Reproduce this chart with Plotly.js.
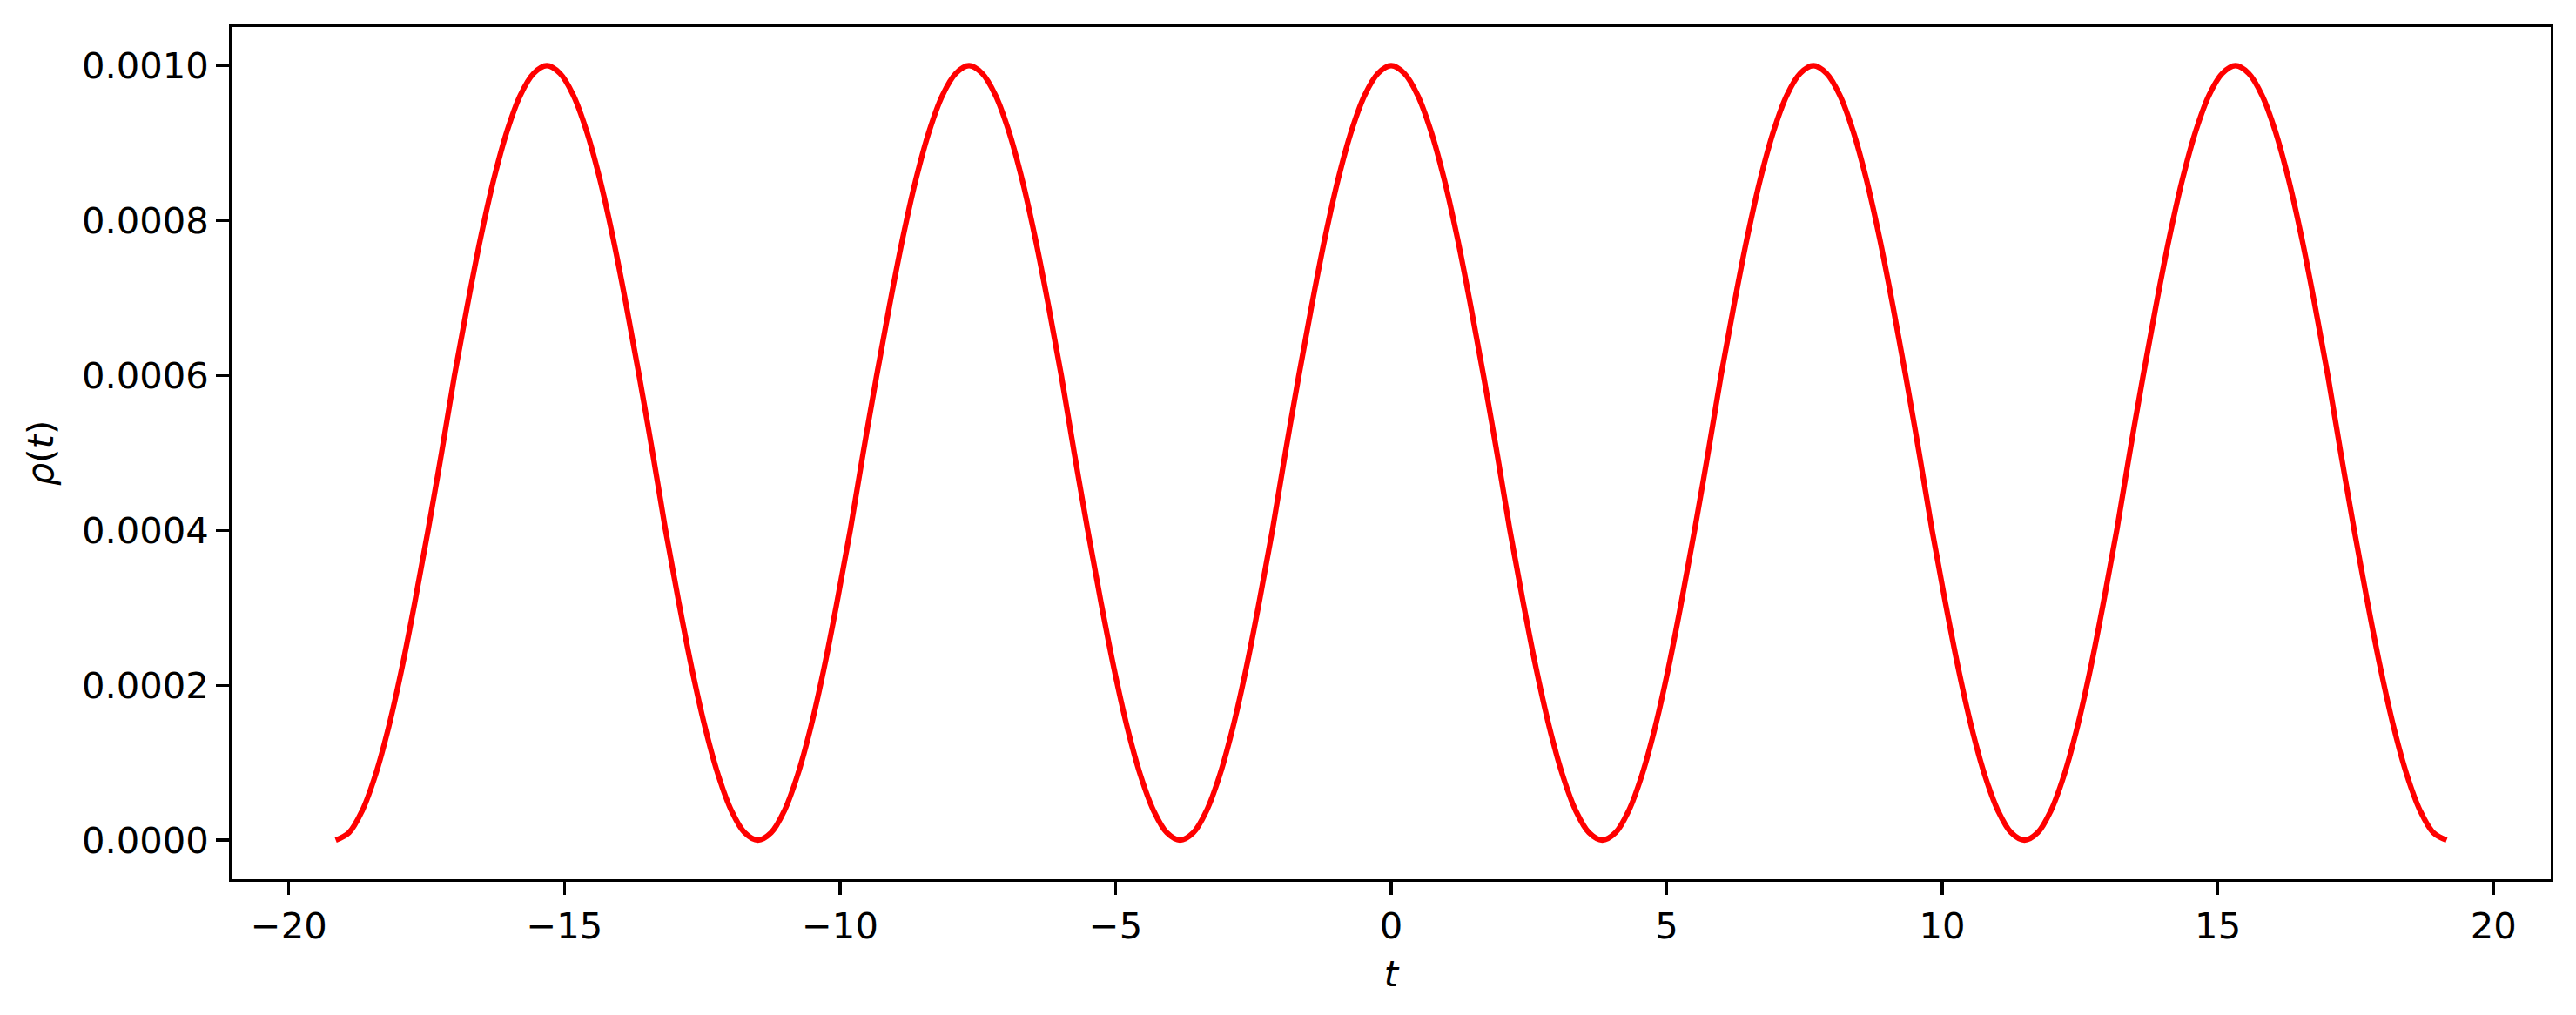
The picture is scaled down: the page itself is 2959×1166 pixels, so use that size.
<!DOCTYPE html>
<html>
<head>
<meta charset="utf-8">
<script src="https://cdn.plot.ly/plotly-3.0.1.min.js"></script>
<style>
  html, body { margin: 0; padding: 0; background: #fff; }
  #chart { width: 2959px; height: 1166px; }
</style>
</head>
<body>
<div id="chart"></div>
<script>
// t values (minima / peaks every 3.83)
const t = [
  -19.15, -18.91, -18.67, -18.43, -18.19, -17.95, -17.71, -17.47, -17.23, -17.00, -16.76, -16.52, -16.28, -16.04, -15.80, -15.56,
  -15.32, -15.08, -14.84, -14.60, -14.36, -14.12, -13.88, -13.64, -13.40, -13.17, -12.93, -12.69, -12.45, -12.21, -11.97, -11.73,
  -11.49, -11.25, -11.01, -10.77, -10.53, -10.29, -10.05, -9.81, -9.58, -9.34, -9.10, -8.86, -8.62, -8.38, -8.14, -7.90,
  -7.66, -7.42, -7.18, -6.94, -6.70, -6.46, -6.22, -5.98, -5.75, -5.51, -5.27, -5.03, -4.79, -4.55, -4.31, -4.07,
  -3.83, -3.59, -3.35, -3.11, -2.87, -2.63, -2.39, -2.15, -1.92, -1.68, -1.44, -1.20, -0.96, -0.72, -0.48, -0.24,
  0.00, 0.24, 0.48, 0.72, 0.96, 1.20, 1.44, 1.68, 1.92, 2.15, 2.39, 2.63, 2.87, 3.11, 3.35, 3.59,
  3.83, 4.07, 4.31, 4.55, 4.79, 5.03, 5.27, 5.51, 5.75, 5.98, 6.22, 6.46, 6.70, 6.94, 7.18, 7.42,
  7.66, 7.90, 8.14, 8.38, 8.62, 8.86, 9.10, 9.34, 9.58, 9.81, 10.05, 10.29, 10.53, 10.77, 11.01, 11.25,
  11.49, 11.73, 11.97, 12.21, 12.45, 12.69, 12.93, 13.17, 13.40, 13.64, 13.88, 14.12, 14.36, 14.60, 14.84, 15.08,
  15.32, 15.56, 15.80, 16.04, 16.28, 16.52, 16.76, 17.00, 17.23, 17.47, 17.71, 17.95, 18.19, 18.43, 18.67, 18.91,
  19.15
];

const rho = [
  0.000000, 0.0000096, 0.000038, 0.000084, 0.000146, 0.000222, 0.000309, 0.000402, 0.000500, 0.000598, 0.000691, 0.000778, 0.000854, 0.000916, 0.000962, 0.000990,
  0.001000, 0.000990, 0.000962, 0.000916, 0.000854, 0.000778, 0.000691, 0.000598, 0.000500, 0.000402, 0.000309, 0.000222, 0.000146, 0.000084, 0.000038, 0.0000096,
  0.000000, 0.0000096, 0.000038, 0.000084, 0.000146, 0.000222, 0.000309, 0.000402, 0.000500, 0.000598, 0.000691, 0.000778, 0.000854, 0.000916, 0.000962, 0.000990,
  0.001000, 0.000990, 0.000962, 0.000916, 0.000854, 0.000778, 0.000691, 0.000598, 0.000500, 0.000402, 0.000309, 0.000222, 0.000146, 0.000084, 0.000038, 0.0000096,
  0.000000, 0.0000096, 0.000038, 0.000084, 0.000146, 0.000222, 0.000309, 0.000402, 0.000500, 0.000598, 0.000691, 0.000778, 0.000854, 0.000916, 0.000962, 0.000990,
  0.001000, 0.000990, 0.000962, 0.000916, 0.000854, 0.000778, 0.000691, 0.000598, 0.000500, 0.000402, 0.000309, 0.000222, 0.000146, 0.000084, 0.000038, 0.0000096,
  0.000000, 0.0000096, 0.000038, 0.000084, 0.000146, 0.000222, 0.000309, 0.000402, 0.000500, 0.000598, 0.000691, 0.000778, 0.000854, 0.000916, 0.000962, 0.000990,
  0.001000, 0.000990, 0.000962, 0.000916, 0.000854, 0.000778, 0.000691, 0.000598, 0.000500, 0.000402, 0.000309, 0.000222, 0.000146, 0.000084, 0.000038, 0.0000096,
  0.000000, 0.0000096, 0.000038, 0.000084, 0.000146, 0.000222, 0.000309, 0.000402, 0.000500, 0.000598, 0.000691, 0.000778, 0.000854, 0.000916, 0.000962, 0.000990,
  0.001000, 0.000990, 0.000962, 0.000916, 0.000854, 0.000778, 0.000691, 0.000598, 0.000500, 0.000402, 0.000309, 0.000222, 0.000146, 0.000084, 0.000038, 0.0000096,
  0.000000
];

const xTicks = [-20, -15, -10, -5, 0, 5, 10, 15, 20];
const yTicks = [0, 0.0002, 0.0004, 0.0006, 0.0008, 0.0010];

const font = {family: 'DejaVu Sans', size: 41.7, color: '#000'};

const data = [{
  type: 'scatter',
  mode: 'lines',
  x: t,
  y: rho,
  line: {color: 'red', width: 6.25, shape: 'spline', smoothing: 1, simplify: false},
  hoverinfo: 'skip'
}];

const layout = {
  width: 2959,
  height: 1166,
  margin: {l: 266, r: 29, t: 31, b: 156},
  paper_bgcolor: '#fff',
  plot_bgcolor: '#fff',
  font: font,
  showlegend: false,
  xaxis: {
    range: [-21.04, 21.04],
    tickvals: xTicks,
    ticks: 'outside', ticklen: 14.6, tickwidth: 3.3, tickcolor: '#000',
    showline: true, linewidth: 3.3, linecolor: '#000', mirror: true,
    showgrid: false, zeroline: false,
    tickfont: font,
    title: {text: '<i>t</i>', font: font, standoff: 18}
  },
  yaxis: {
    range: [-0.0000505, 0.00105],
    tickvals: yTicks,
    tickformat: '.4f',
    ticks: 'outside', ticklen: 14.6, tickwidth: 3.3, tickcolor: '#000',
    showline: true, linewidth: 3.3, linecolor: '#000', mirror: true,
    showgrid: false, zeroline: false,
    tickfont: font,
    title: {text: '<i>ρ</i>(<i>t</i>)', font: font, standoff: 20}
  }
};

Plotly.newPlot('chart', data, layout, {displayModeBar: false, staticPlot: true});
</script>
</body>
</html>
